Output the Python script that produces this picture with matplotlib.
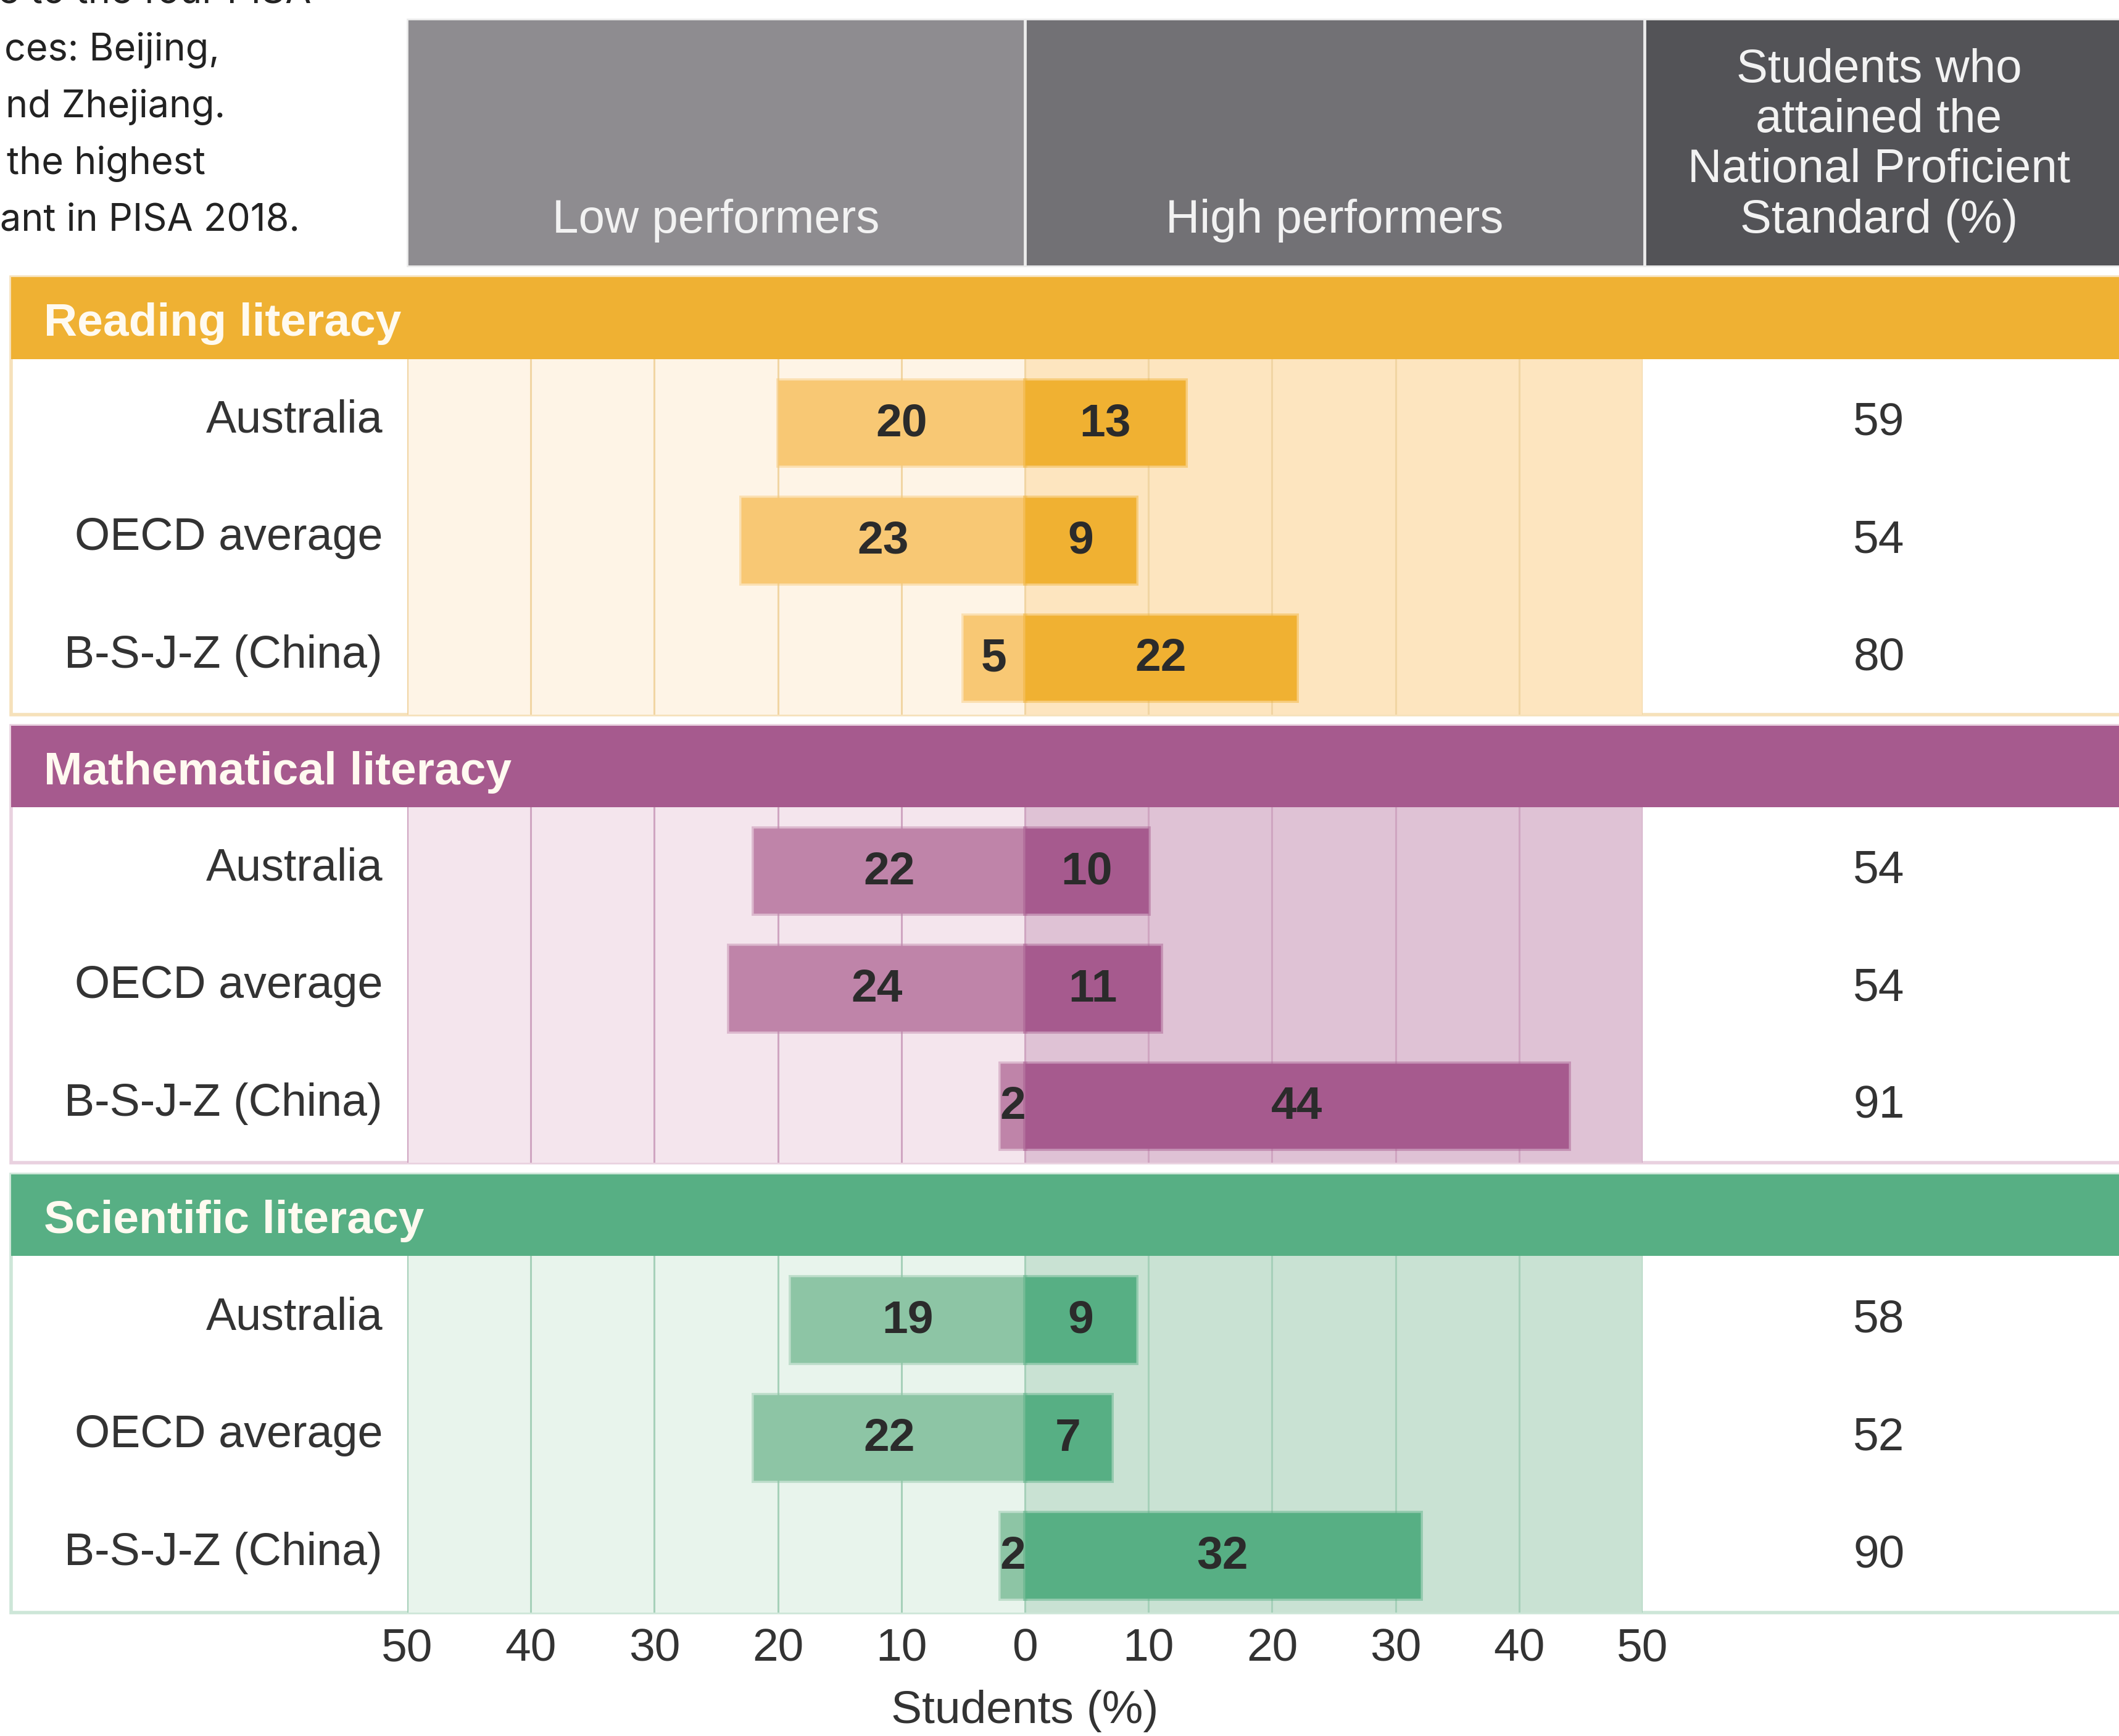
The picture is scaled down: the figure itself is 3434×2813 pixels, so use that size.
import numpy as np
import matplotlib
matplotlib.use("Agg")
import matplotlib.pyplot as plt
from matplotlib.patches import Rectangle
import matplotlib.transforms as mtransforms

# data
subjects = ["Reading literacy", "Mathematical literacy", "Scientific literacy"]
countries = ["Australia", "OECD average", "B-S-J-Z (China)"]
low_perf = [[20, 23, 5], [22, 24, 2], [19, 22, 2]]
high_perf = [[13, 9, 22], [10, 11, 44], [9, 7, 32]]
nps = [[59, 54, 80], [54, 54, 91], [58, 52, 90]]
ticks = [-50, -40, -30, -20, -10, 0, 10, 20, 30, 40, 50]
tick_labels = [str(abs(t)) for t in ticks]
col_heads = ["Low performers", "High performers"]
nps_head = ["Students who", "attained the", "National Proficient", "Standard (%)"]
intro = ["e to the four PISA", "ces: Beijing,", "nd Zhejiang.", "the highest", "ant in PISA 2018."]

# colours per subject: header, low bar, high bar, bg left, bg right, grid, border
palette = [
    dict(head="#efb133", low="#f8c874", high="#f0b132", bgl="#fef4e6", bgr="#fde5bf",
         grid="#f1d5a3", border="#f6e1ba"),
    dict(head="#a65a8e", low="#bf84a9", high="#a65a8e", bgl="#f4e5ed", bgr="#dfc2d5",
         grid="#cfa5c1", border="#e9d1df"),
    dict(head="#57af84", low="#8dc5a5", high="#57af84", bgl="#e8f4ec", bgr="#c9e2d3",
         grid="#a6d0b9", border="#cde6d8"),
]

W, H = 3434, 2813
fig = plt.figure(figsize=(W / 100, H / 100), dpi=100)
fig.patch.set_facecolor("white")

def fx(x):
    return x / W

def fy(y):
    return 1 - y / H

HELV = "Liberation Sans"
X0, X50L, XMID, X50R = 18, 660, 1661, 2662
XNPS = 3045

# intro text (cut off at the left edge, as in the source page)
intro_x = [-4, 7, 9, 11, 0]
for k, line in enumerate(intro):
    fig.text(fx(intro_x[k]), fy(6 + 92 * k), line, family="Inter", fontsize=44,
             color="#222222", ha="left", va="baseline")

# grey column headers
heads = [(X50L, XMID - 1, "#8e8c90"), (XMID + 1, X50R + 2, "#727175"), (X50R + 4, W + 5, "#535357")]
for x1, x2, c in heads:
    fig.add_artist(Rectangle((fx(x1), fy(431)), fx(x2) - fx(x1), 400 / H, transform=fig.transFigure,
                             facecolor=c, edgecolor="#ececec", lw=2))
for k, txt in enumerate(col_heads):
    xc = (heads[k][0] + heads[k][1]) / 2
    fig.text(fx(xc), fy(377), txt, family=HELV, fontsize=55, color="#f2f2f2",
             ha="center", va="baseline")
for k, txt in enumerate(nps_head):
    fig.text(fx(XNPS), fy(377 - 81.5 * (3 - k)), txt, family=HELV, fontsize=55,
             color="#f2f2f2", ha="center", va="baseline")

panels = [(449, 582, 1158), (1176, 1308, 1884), (1903, 2035, 2613)]

for i, subj in enumerate(subjects):
    p = palette[i]
    top, hb, bot = panels[i]
    # panel frame and coloured title band
    fig.add_artist(Rectangle((fx(X0), fy(bot)), fx(W + 20) - fx(X0), (bot - top) / H,
                             transform=fig.transFigure, facecolor="white", edgecolor=p["border"],
                             lw=4, zorder=0))
    fig.add_artist(Rectangle((fx(X0), fy(hb)), fx(W + 20) - fx(X0), (hb - top) / H,
                             transform=fig.transFigure, facecolor=p["head"], edgecolor="none"))
    fig.text(fx(71), fy(top + 95), subj, family=HELV, fontsize=54, weight="bold",
             color="#fffaf0", ha="left", va="baseline")

    ax = fig.add_axes([fx(X50L), fy(bot), (X50R - X50L) / W, (bot - hb) / H])
    ax.set_xlim(-50, 50)
    ax.set_ylim(2.484, -0.542)
    ax.axvspan(-50, 0, color=p["bgl"], zorder=0, lw=0)
    ax.axvspan(0, 50, color=p["bgr"], zorder=0, lw=0)
    for t in ticks:
        ax.axvline(t, color=p["grid"], lw=2.2, zorder=1)

    y = np.arange(len(countries))
    lows = np.array(low_perf[i])
    highs = np.array(high_perf[i])
    ax.barh(y, -lows, height=0.726, color=p["low"], edgecolor=(*matplotlib.colors.to_rgb(p["low"]), 0.45),
            lw=5, zorder=2)
    ax.barh(y, highs, height=0.726, color=p["high"], edgecolor=(*matplotlib.colors.to_rgb(p["high"]), 0.45),
            lw=5, zorder=2)
    for j in range(len(countries)):
        ax.text(-lows[j] / 2, j + 0.01, str(lows[j]), ha="center", va="center", family=HELV,
                fontsize=54, weight="bold", color="#2b2b2b", zorder=3)
        ax.text(highs[j] / 2, j + 0.01, str(highs[j]), ha="center", va="center", family=HELV,
                fontsize=54, weight="bold", color="#2b2b2b", zorder=3)

    trans = mtransforms.blended_transform_factory(fig.transFigure, ax.transData)
    for j, c in enumerate(countries):
        ax.text(fx(620), j - 0.02, c, transform=trans, ha="right", va="center", family=HELV,
                fontsize=53, color="#333333", clip_on=False)
        ax.text(fx(XNPS), j, str(nps[i][j]), transform=trans, ha="center", va="center",
                family=HELV, fontsize=54, color="#333333", clip_on=False)

    for s in ax.spines.values():
        s.set_visible(False)
    ax.set_yticks([])
    ax.set_xticks(ticks)
    if i == len(subjects) - 1:
        ax.set_xticklabels(tick_labels, family=HELV, fontsize=54, color="#333333")
        ax.tick_params(axis="x", length=0, pad=18)
        ax.set_xlabel("Students (%)", family=HELV, fontsize=54, color="#333333", labelpad=22)
    else:
        ax.set_xticklabels([])
        ax.tick_params(axis="x", length=0)

fig.savefig("out.png", dpi=100, facecolor="white")
